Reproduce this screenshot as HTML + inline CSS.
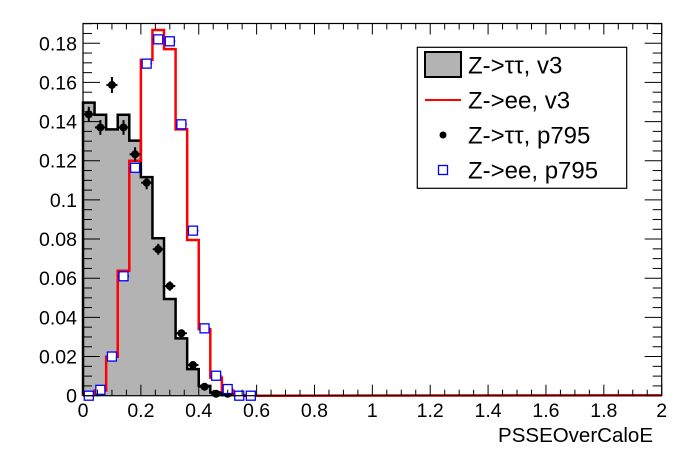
<!DOCTYPE html><html><head><style>body{margin:0;background:#fff}svg{display:block}text{font-family:"Liberation Sans",Arial,sans-serif;fill:#000}</style></head><body>
<svg id="s" width="696" height="472" xmlns="http://www.w3.org/2000/svg"></svg>
<script>
const L=83,R=661.7,B=395.7,T=23.5,sx=(R-L)/2,sy=1958;
const X=v=>L+v*sx,Y=v=>B-v*sy;
let o='<rect width="696" height="472" fill="#fff"/>';
function step(vals,close){let d=`M${X(0)},${B}`;vals.forEach((v,i)=>{d+=`L${X(i*.04)},${Y(v)}L${X((i+1)*.04)},${Y(v)}`;});d+=`L${X(vals.length*.04)},${B}`;return d;}
const blk=[.1497,.1435,.136,.1435,.1303,.1116,.0804,.0494,.0293,.0136,.005,.0017,.0003];
const red=[.0005,.0026,.0199,.0638,.12,.1715,.1868,.177,.136,.0795,.034,.0092,.0026,.0003];
o+=`<path d="${step(blk)}Z" fill="#b3b3b3" stroke="none"/>`;
o+=`<path d="${step(blk)}" fill="none" stroke="#000" stroke-width="2.5"/>`;
let rd=step(red)+`L${X(2)},${B-0.5}`;
o+=`<path d="${rd}" fill="none" stroke="#f00" stroke-width="2.5"/>`;
const bp=[.1437,.137,.1587,.137,.1233,.1088,.0748,.056,.0319,.0157,.0046,.001,.001];
bp.forEach((v,i)=>{const x=X(.02+i*.04),y=Y(v),e=Math.max(2.5,Math.sqrt(v)*20);o+=`<line x1="${x-5.5}" x2="${x+5.5}" y1="${y}" y2="${y}" stroke="#000" stroke-width="2"/><line x1="${x}" x2="${x}" y1="${y-e}" y2="${Math.min(B,y+e)}" stroke="#000" stroke-width="2"/><circle cx="${x}" cy="${y}" r="4" fill="#000"/>`;});
const bl=[0,.003,.02,.061,.1164,.1696,.182,.181,.1386,.0843,.0344,.0102,.0034,0,0];
bl.forEach((v,i)=>{const x=X(.02+i*.04),y=Y(v);o+=`<line x1="${x-5.5}" x2="${x+5.5}" y1="${y}" y2="${y}" stroke="#00f" stroke-width="1.5"/><rect x="${x-4.5}" y="${y-4.5}" width="9" height="9" fill="#fff" stroke="#00f" stroke-width="1.3"/>`;});
o+=`<rect x="${L}" y="${T}" width="${R-L}" height="${B-T}" fill="none" stroke="#000" stroke-width="1.2"/>`;
for(let i=0;i<=40;i++){const v=i*.05,x=X(v),M=i%4==0,l=M?11:6;o+=`<line x1="${x}" x2="${x}" y1="${B}" y2="${B-l}" stroke="#000"/><line x1="${x}" x2="${x}" y1="${T}" y2="${T+l}" stroke="#000"/>`;if(M){const t=(Math.round(v*10)/10).toString();o+=`<text x="${x}" y="417" text-anchor="middle" style="font-size:19.5px">${t}</text>`;}}
for(let i=0;i<=38;i++){const v=i*.005,y=Y(v),M=i%4==0,l=M?17:9;if(y<T-0.5)continue;o+=`<line x1="${L}" x2="${L+l}" y1="${y}" y2="${y}" stroke="#000"/><line x1="${R}" x2="${R-l}" y1="${y}" y2="${y}" stroke="#000"/>`;if(M){const t=i==0?'0':(i==20?'0.1':(v.toFixed(2)));o+=`<text x="77" y="${y+7}" text-anchor="end" style="font-size:19.5px">${t}</text>`;}}
o+=`<text x="653" y="442" text-anchor="end" style="font-size:20.5px">PSSEOverCaloE</text>`;
o+=`<rect x="417.3" y="47.3" width="209.4" height="141" fill="#fff" stroke="#000" stroke-width="1.2"/>`;
o+=`<rect x="425" y="52" width="36" height="25" fill="#b3b3b3" stroke="#000" stroke-width="2"/>`;
o+=`<line x1="425" x2="461" y1="100" y2="100" stroke="#f00" stroke-width="2"/>`;
o+=`<circle cx="443" cy="135" r="3.5" fill="#000"/>`;
o+=`<rect x="438.5" y="165.5" width="9" height="9" fill="#fff" stroke="#00f" stroke-width="1.3"/>`;
[['Z-&gt;ττ, v3',65],['Z-&gt;ee, v3',100],['Z-&gt;ττ, p795',135],['Z-&gt;ee, p795',170]].forEach(([t,y])=>{o+=`<text x="468" y="${y+8.5}" style="font-size:24px">${t}</text>`;});
document.getElementById('s').innerHTML=o;
</script></body></html>
